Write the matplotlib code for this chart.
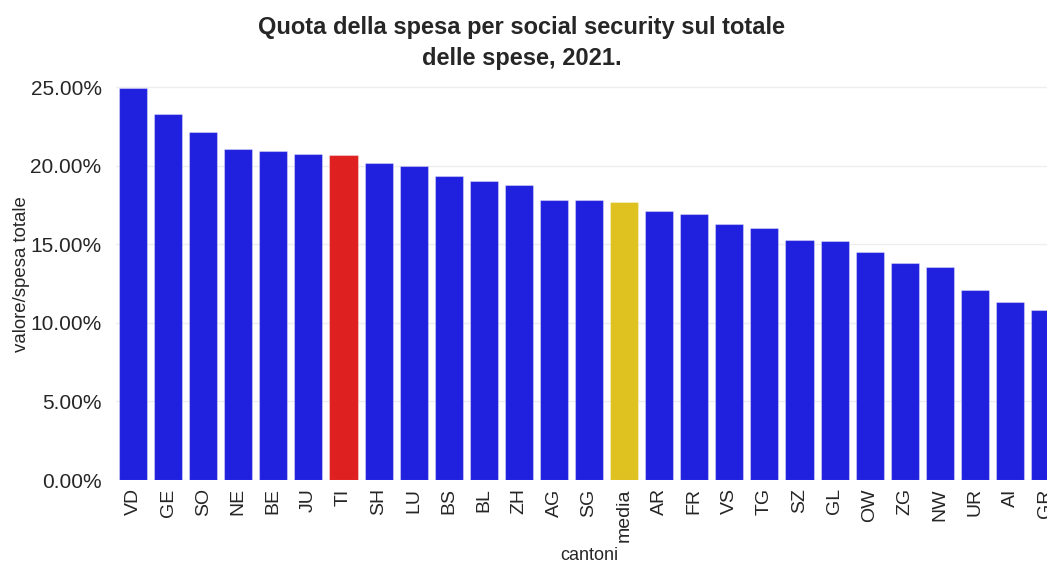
import matplotlib
matplotlib.use("Agg")
import matplotlib.pyplot as plt
from matplotlib.ticker import PercentFormatter
import colorsys

cantoni = ["VD", "GE", "SO", "NE", "BE", "JU", "TI", "SH", "LU", "BS", "BL", "ZH", "AG", "SG",
           "media", "AR", "FR", "VS", "TG", "SZ", "GL", "OW", "ZG", "NW", "UR", "AI", "GR"]
quota = [0.2494, 0.2330, 0.2216, 0.2108, 0.2091, 0.2072, 0.2066, 0.2017, 0.1999, 0.1934,
         0.1902, 0.1875, 0.1783, 0.1781, 0.1766, 0.1711, 0.1692, 0.1627, 0.1601, 0.1529,
         0.1518, 0.1452, 0.1378, 0.1355, 0.1211, 0.1134, 0.1083]


def desat(rgb, s=0.75):
    h, l, sat = colorsys.rgb_to_hls(*rgb)
    return colorsys.hls_to_rgb(h, l, sat * s)


blue = desat((0, 0, 1))
red = desat((1, 0, 0))
gold = desat((1, 0.843, 0))
colors = [red if c == "TI" else gold if c == "media" else blue for c in cantoni]

plt.rcParams['font.family'] = ['Liberation Sans', 'DejaVu Sans']

fig = plt.figure(figsize=(10.47, 5.63), dpi=100)
ax = fig.add_axes([115.5 / 1047, 83 / 563, (1062.6 - 115.5) / 1047, 411.7 / 563])

x = list(range(len(cantoni)))
ax.bar(x, quota, width=0.8, color=colors, edgecolor=(1, 1, 1, 0.35), linewidth=0.8, zorder=2)
ax.set_xlim(-0.5, len(cantoni) - 0.5)
ax.set_ylim(0, 0.2619)
ax.set_xticks(x)
ax.set_xticklabels(cantoni, rotation=90, fontsize=14, color='#262626')
ax.set_yticks([0, 0.05, 0.10, 0.15, 0.20, 0.25])
ax.yaxis.set_major_formatter(PercentFormatter(1.0, decimals=2))
ax.tick_params(axis='y', labelsize=15, colors='#262626', length=0, pad=10)
ax.tick_params(axis='x', length=0, pad=6)
ax.grid(axis='y', color='#EEEEEE', linewidth=1, zorder=0)
ax.grid(axis='x', visible=False)
for s in ax.spines.values():
    s.set_visible(False)
ax.set_xlabel("cantoni", fontsize=13, color='#262626', labelpad=4)
ax.set_ylabel("valore/spesa totale", fontsize=13.4, color='#262626', labelpad=0)

fig.text(522 / 1047, 1 - 43 / 563, "Quota della spesa per social security sul totale\ndelle spese, 2021.",
         ha='center', va='center', fontsize=17, fontweight='bold', color='#262626', linespacing=1.4)

fig.savefig("out.png", dpi=100)
